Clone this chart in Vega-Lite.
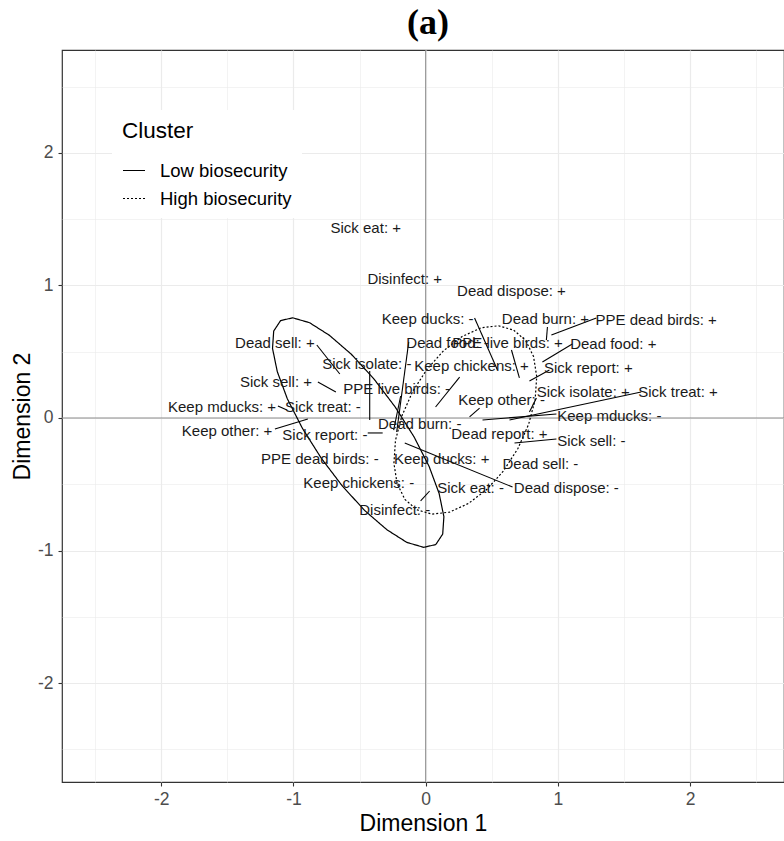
{
  "$schema": "https://vega.github.io/schema/vega-lite/v6.json",
  "width": 722,
  "height": 732,
  "autosize": {"type": "none"},
  "padding": {"left": 62, "top": 50, "right": 0, "bottom": 59},
  "background": "white",
  "title": {"text": "(a)", "font": "Liberation Serif", "fontSize": 36, "fontWeight": "bold", "color": "black", "anchor": "middle", "offset": 8, "dx": 5},
  "config": {
    "view": {"stroke": "#333333", "strokeWidth": 1.2},
    "axis": {
      "domain": false,
      "gridColor": "#EBEBEB",
      "gridWidth": {"condition": {"test": "datum.value % 1 === 0", "value": 1.2}, "value": 0.6},
      "tickColor": {"condition": {"test": "datum.value % 1 === 0", "value": "#333333"}, "value": "transparent"},
      "tickSize": 4,
      "tickWidth": 1.1,
      "labelFont": "Liberation Sans",
      "labelFontSize": 17.5,
      "labelColor": "#4D4D4D",
      "titleFont": "Liberation Sans",
      "titleFontSize": 23,
      "titleFontWeight": "normal",
      "titleColor": "black"
    }
  },
  "datasets": {
    "ell": [
      {"cluster": "Low biosecurity", "i": 0, "x": 0.077, "y": -0.955},
      {"cluster": "Low biosecurity", "i": 1, "x": 0.129, "y": -0.876},
      {"cluster": "Low biosecurity", "i": 2, "x": 0.138, "y": -0.745},
      {"cluster": "Low biosecurity", "i": 3, "x": 0.102, "y": -0.570},
      {"cluster": "Low biosecurity", "i": 4, "x": 0.026, "y": -0.365},
      {"cluster": "Low biosecurity", "i": 5, "x": -0.088, "y": -0.142},
      {"cluster": "Low biosecurity", "i": 6, "x": -0.231, "y": 0.084},
      {"cluster": "Low biosecurity", "i": 7, "x": -0.392, "y": 0.296},
      {"cluster": "Low biosecurity", "i": 8, "x": -0.562, "y": 0.481},
      {"cluster": "Low biosecurity", "i": 9, "x": -0.728, "y": 0.624},
      {"cluster": "Low biosecurity", "i": 10, "x": -0.878, "y": 0.719},
      {"cluster": "Low biosecurity", "i": 11, "x": -1.005, "y": 0.756},
      {"cluster": "Low biosecurity", "i": 12, "x": -1.097, "y": 0.735},
      {"cluster": "Low biosecurity", "i": 13, "x": -1.149, "y": 0.656},
      {"cluster": "Low biosecurity", "i": 14, "x": -1.158, "y": 0.525},
      {"cluster": "Low biosecurity", "i": 15, "x": -1.122, "y": 0.350},
      {"cluster": "Low biosecurity", "i": 16, "x": -1.046, "y": 0.145},
      {"cluster": "Low biosecurity", "i": 17, "x": -0.932, "y": -0.078},
      {"cluster": "Low biosecurity", "i": 18, "x": -0.789, "y": -0.304},
      {"cluster": "Low biosecurity", "i": 19, "x": -0.628, "y": -0.516},
      {"cluster": "Low biosecurity", "i": 20, "x": -0.458, "y": -0.701},
      {"cluster": "Low biosecurity", "i": 21, "x": -0.292, "y": -0.844},
      {"cluster": "Low biosecurity", "i": 22, "x": -0.142, "y": -0.939},
      {"cluster": "Low biosecurity", "i": 23, "x": -0.015, "y": -0.976},
      {"cluster": "Low biosecurity", "i": 24, "x": 0.077, "y": -0.955},
      {"cluster": "High biosecurity", "i": 0, "x": 0.666, "y": 0.663},
      {"cluster": "High biosecurity", "i": 1, "x": 0.757, "y": 0.584},
      {"cluster": "High biosecurity", "i": 2, "x": 0.816, "y": 0.464},
      {"cluster": "High biosecurity", "i": 3, "x": 0.840, "y": 0.312},
      {"cluster": "High biosecurity", "i": 4, "x": 0.828, "y": 0.138},
      {"cluster": "High biosecurity", "i": 5, "x": 0.779, "y": -0.047},
      {"cluster": "High biosecurity", "i": 6, "x": 0.698, "y": -0.230},
      {"cluster": "High biosecurity", "i": 7, "x": 0.589, "y": -0.399},
      {"cluster": "High biosecurity", "i": 8, "x": 0.462, "y": -0.540},
      {"cluster": "High biosecurity", "i": 9, "x": 0.322, "y": -0.646},
      {"cluster": "High biosecurity", "i": 10, "x": 0.182, "y": -0.710},
      {"cluster": "High biosecurity", "i": 11, "x": 0.049, "y": -0.726},
      {"cluster": "High biosecurity", "i": 12, "x": -0.066, "y": -0.693},
      {"cluster": "High biosecurity", "i": 13, "x": -0.157, "y": -0.614},
      {"cluster": "High biosecurity", "i": 14, "x": -0.216, "y": -0.494},
      {"cluster": "High biosecurity", "i": 15, "x": -0.240, "y": -0.342},
      {"cluster": "High biosecurity", "i": 16, "x": -0.228, "y": -0.168},
      {"cluster": "High biosecurity", "i": 17, "x": -0.179, "y": 0.017},
      {"cluster": "High biosecurity", "i": 18, "x": -0.098, "y": 0.200},
      {"cluster": "High biosecurity", "i": 19, "x": 0.011, "y": 0.369},
      {"cluster": "High biosecurity", "i": 20, "x": 0.138, "y": 0.510},
      {"cluster": "High biosecurity", "i": 21, "x": 0.278, "y": 0.616},
      {"cluster": "High biosecurity", "i": 22, "x": 0.418, "y": 0.680},
      {"cluster": "High biosecurity", "i": 23, "x": 0.551, "y": 0.696},
      {"cluster": "High biosecurity", "i": 24, "x": 0.666, "y": 0.663}
    ],
    "seg": [
      {"x": -0.823, "y": 0.551, "x2": -0.649, "y2": 0.332},
      {"x": -0.815, "y": 0.272, "x2": -0.679, "y2": 0.196},
      {"x": -1.140, "y": -0.083, "x2": -0.891, "y2": -0.008},
      {"x": -1.117, "y": 0.091, "x2": -1.049, "y2": 0.060},
      {"x": -0.423, "y": 0.355, "x2": -0.423, "y2": -0.015},
      {"x": -0.128, "y": 0.574, "x2": -0.219, "y2": -0.106},
      {"x": -0.189, "y": 0.166, "x2": -0.242, "y2": -0.091},
      {"x": -0.438, "y": -0.113, "x2": -0.325, "y2": -0.113},
      {"x": 0.257, "y": 0.309, "x2": 0.075, "y2": 0.083},
      {"x": 0.370, "y": 0.755, "x2": 0.543, "y2": 0.362},
      {"x": 0.649, "y": 0.513, "x2": 0.709, "y2": 0.302},
      {"x": 0.921, "y": 0.687, "x2": 0.913, "y2": 0.589},
      {"x": 1.291, "y": 0.755, "x2": 0.951, "y2": 0.626},
      {"x": 1.109, "y": 0.558, "x2": 0.883, "y2": 0.423},
      {"x": 0.936, "y": 0.362, "x2": 0.785, "y2": 0.279},
      {"x": 1.630, "y": 0.196, "x2": 0.634, "y2": -0.015},
      {"x": 0.989, "y": 0.030, "x2": 0.430, "y2": -0.015},
      {"x": 0.408, "y": 0.075, "x2": 0.332, "y2": 0.008},
      {"x": 0.989, "y": -0.158, "x2": 0.672, "y2": -0.189},
      {"x": 0.657, "y": -0.521, "x2": -0.158, "y2": -0.189},
      {"x": 0.030, "y": -0.551, "x2": -0.038, "y2": -0.626},
      {"x": 0.838, "y": 0.151, "x2": 0.785, "y2": 0.045}
    ],
    "lab": [
      {"label": "Sick eat: +", "x": -0.453, "y": 1.434},
      {"label": "Disinfect: +", "x": -0.158, "y": 1.049},
      {"label": "Dead dispose: +", "x": 0.649, "y": 0.958},
      {"label": "Keep ducks: -", "x": 0.015, "y": 0.747},
      {"label": "Dead burn: +", "x": 0.906, "y": 0.747},
      {"label": "PPE dead birds: +", "x": 1.743, "y": 0.740},
      {"label": "Dead sell: +", "x": -1.140, "y": 0.566},
      {"label": "Dead food: +", "x": 1.419, "y": 0.558},
      {"label": "Dead food: -", "x": 0.166, "y": 0.566},
      {"label": "PPE live birds: +", "x": 0.619, "y": 0.566},
      {"label": "Sick isolate: -", "x": -0.445, "y": 0.408},
      {"label": "Keep chickens: +", "x": 0.347, "y": 0.392},
      {"label": "Sick report: +", "x": 1.230, "y": 0.377},
      {"label": "Sick sell: +", "x": -1.132, "y": 0.272},
      {"label": "PPE live birds: -", "x": -0.219, "y": 0.219},
      {"label": "Sick isolate: +", "x": 1.192, "y": 0.196},
      {"label": "Sick treat: +", "x": 1.909, "y": 0.196},
      {"label": "Keep other: -", "x": 0.574, "y": 0.136},
      {"label": "Keep mducks: +", "x": -1.540, "y": 0.083},
      {"label": "Sick treat: -", "x": -0.777, "y": 0.083},
      {"label": "Keep mducks: -", "x": 1.389, "y": 0.015},
      {"label": "Dead burn: -", "x": -0.045, "y": -0.045},
      {"label": "Keep other: +", "x": -1.502, "y": -0.098},
      {"label": "Sick report: -", "x": -0.762, "y": -0.128},
      {"label": "Dead report: +", "x": 0.558, "y": -0.121},
      {"label": "Sick sell: -", "x": 1.253, "y": -0.174},
      {"label": "PPE dead birds: -", "x": -0.800, "y": -0.309},
      {"label": "Keep ducks: +", "x": 0.121, "y": -0.309},
      {"label": "Dead sell: -", "x": 0.868, "y": -0.347},
      {"label": "Keep chickens: -", "x": -0.506, "y": -0.491},
      {"label": "Sick eat: -", "x": 0.340, "y": -0.528},
      {"label": "Dead dispose: -", "x": 1.064, "y": -0.528},
      {"label": "Disinfect: -", "x": -0.234, "y": -0.694}
    ]
  },
  "layer": [
    {
      "data": {"values": [{"v": 0}]},
      "mark": {"type": "rule", "color": "#8c8c8c", "strokeWidth": 1},
      "encoding": {
        "x": {"field": "v", "type": "quantitative", "scale": {"domain": [-2.75, 2.71], "nice": false, "zero": false},
          "axis": {"title": "Dimension 1", "values": [-2.5, -2, -1.5, -1, -0.5, 0, 0.5, 1, 1.5, 2, 2.5], "labelExpr": "datum.value % 1 === 0 ? '' + datum.value : ''", "labelPadding": 4, "titlePadding": 5}}
      }
    },
    {
      "data": {"values": [{"v": 0}]},
      "mark": {"type": "rule", "color": "#8c8c8c", "strokeWidth": 1},
      "encoding": {
        "y": {"field": "v", "type": "quantitative", "scale": {"domain": [-2.747, 2.777], "nice": false, "zero": false},
          "axis": {"title": "Dimension 2", "values": [-2.5, -2, -1.5, -1, -0.5, 0, 0.5, 1, 1.5, 2, 2.5], "labelExpr": "datum.value % 1 === 0 ? '' + datum.value : ''", "labelPadding": 5, "titlePadding": 3}}
      }
    },
    {
      "data": {"name": "ell"},
      "mark": {"type": "line", "color": "black", "strokeWidth": 1.2},
      "encoding": {
        "x": {"field": "x", "type": "quantitative"},
        "y": {"field": "y", "type": "quantitative"},
        "order": {"field": "i", "type": "quantitative"},
        "detail": {"field": "cluster"},
        "strokeDash": {"field": "cluster", "type": "nominal",
          "scale": {"domain": ["Low biosecurity", "High biosecurity"], "range": [[1, 0], [2, 2]]},
          "legend": {"title": "Cluster", "orient": "none", "legendX": 50, "legendY": 60, "fillColor": "white", "padding": 10,
            "titleFont": "Liberation Sans", "titleFontSize": 22.5, "titleFontWeight": "normal", "titleColor": "black", "titlePadding": 16,
            "labelFont": "Liberation Sans", "labelFontSize": 18.5, "labelColor": "black", "labelOffset": 14,
            "symbolType": "stroke", "symbolSize": 484, "symbolStrokeColor": "black", "symbolStrokeWidth": 1.2, "rowPadding": 6, "symbolOffset": 0}}
      }
    },
    {
      "data": {"name": "seg"},
      "mark": {"type": "rule", "color": "black", "strokeWidth": 1.1},
      "encoding": {
        "x": {"field": "x", "type": "quantitative"},
        "y": {"field": "y", "type": "quantitative"},
        "x2": {"field": "x2"},
        "y2": {"field": "y2"}
      }
    },
    {
      "data": {"name": "lab"},
      "mark": {"type": "text", "font": "Liberation Sans", "fontSize": 15, "color": "#1a1a1a", "align": "center", "baseline": "middle"},
      "encoding": {
        "x": {"field": "x", "type": "quantitative"},
        "y": {"field": "y", "type": "quantitative"},
        "text": {"field": "label"}
      }
    }
  ]
}
